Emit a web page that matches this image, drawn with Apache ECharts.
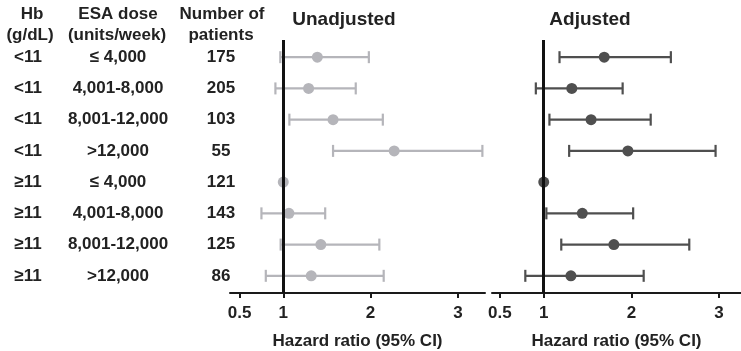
<!DOCTYPE html>
<html>
<head>
<meta charset="utf-8">
<script src="https://cdn.jsdelivr.net/npm/echarts@6/dist/echarts.min.js"></script>
<style>
html,body{margin:0;padding:0;background:#fff;}
#chart{width:741px;height:351px;}
</style>
</head>
<body>
<div id="chart"></div>
<script>
const hbLabels = ['<11', '<11', '<11', '<11', '≥11', '≥11', '≥11', '≥11'];
const doseLabels = ['≤ 4,000', '4,001-8,000', '8,001-12,000', '>12,000', '≤ 4,000', '4,001-8,000', '8,001-12,000', '>12,000'];
const patients = [175, 205, 103, 55, 121, 143, 125, 86];

const unadjHR = [1.39, 1.29, 1.57, 2.27, 1.00, 1.065, 1.43, 1.32];
const unadjLo = [0.966, 0.91, 1.07, 1.57, null, 0.75, 0.97, 0.80];
const unadjHi = [1.98, 1.83, 2.14, 3.28, null, 1.48, 2.10, 2.15];

const adjHR = [1.69, 1.32, 1.54, 1.96, 1.00, 1.44, 1.80, 1.31];
const adjLo = [1.18, 0.91, 1.065, 1.29, null, 1.03, 1.20, 0.79];
const adjHi = [2.45, 1.90, 2.22, 2.96, null, 2.02, 2.66, 2.14];

const tickValues = [0.5, 1, 2, 3];
const rowValues = [1, 2, 3, 4, 5, 6, 7, 8];

const FONT = "'Liberation Sans', Arial, sans-serif";
const TXT = '#222';
const LIGHT = '#b5b5ba';
const DARK = '#4f4f4f';

function errData(lo, hi) {
  const out = [];
  lo.forEach((v, i) => { if (v != null && hi[i] != null) out.push([i + 1, v, hi[i]]); });
  return out;
}
function makeRender(color) {
  return function (params, api) {
    const y = api.value(0), lo = api.value(1), hi = api.value(2);
    const a = api.coord([lo, y]), b = api.coord([hi, y]);
    const h = 6;
    const style = { stroke: color, lineWidth: 2.2 };
    return { type: 'group', children: [
      { type: 'line', shape: { x1: a[0], y1: a[1], x2: b[0], y2: b[1] }, style: style },
      { type: 'line', shape: { x1: a[0], y1: a[1] - h, x2: a[0], y2: a[1] + h }, style: style },
      { type: 'line', shape: { x1: b[0], y1: b[1] - h, x2: b[0], y2: b[1] + h }, style: style }
    ] };
  };
}
function xAxisCfg(gi, min, max) {
  return {
    gridIndex: gi, type: 'value', min: min, max: max,
    axisLine: { show: true, onZero: false, lineStyle: { color: '#1a1a1a', width: 2 } },
    axisTick: { show: true, customValues: tickValues, length: 5, lineStyle: { color: '#1a1a1a', width: 2 } },
    axisLabel: { customValues: tickValues, fontSize: 17, fontWeight: 'bold', color: TXT, fontFamily: FONT, margin: 12,
      formatter: v => String(v) },
    splitLine: { show: false },
    name: 'Hazard ratio (95% CI)', nameLocation: 'middle', nameGap: 40,
    nameTextStyle: { fontSize: 17, fontWeight: 'bold', color: TXT, fontFamily: FONT }
  };
}
function yAxisCfg(gi, labels, offset) {
  const cfg = {
    gridIndex: gi, type: 'value', inverse: true, min: 0.45, max: 8.55,
    axisLine: { show: false }, axisTick: { show: false }, splitLine: { show: false },
    position: 'left', offset: offset || 0,
    axisLabel: { show: false }
  };
  if (labels) {
    cfg.axisLabel = { show: true, customValues: rowValues, margin: 0, align: 'center',
      fontSize: 17, fontWeight: 'bold', color: TXT, fontFamily: FONT,
      formatter: v => String(labels[Math.round(v) - 1]) };
  }
  return cfg;
}
const refLine = {
  silent: true, symbol: 'none', label: { show: false },
  lineStyle: { color: '#111', width: 3, type: 'solid' },
  data: [{ xAxis: 1 }]
};

const chart = echarts.init(document.getElementById('chart'), null, { renderer: 'canvas' });
const headerStyle = (text, x, y, size) => ({
  type: 'text', x: x, y: y,
  style: { text: text, fill: TXT, font: 'bold ' + (size || 17) + 'px ' + FONT, textAlign: 'center', textVerticalAlign: 'middle' }
});
chart.setOption({
  animation: false,
  backgroundColor: '#fff',
  textStyle: { fontFamily: FONT },
  grid: [
    { left: 230, top: 40, width: 255, height: 253, containLabel: false, outerBoundsMode: 'none' },
    { left: 492, top: 40, width: 249, height: 253, containLabel: false, outerBoundsMode: 'none' }
  ],
  xAxis: [xAxisCfg(0, 0.39, 3.31), xAxisCfg(1, 0.41, 3.25)],
  yAxis: [
    yAxisCfg(0, null, 0),
    yAxisCfg(1, null, 0),
    yAxisCfg(0, patients, 9),
    yAxisCfg(0, doseLabels, 112),
    yAxisCfg(0, hbLabels, 202)
  ],
  graphic: [
    headerStyle('Hb', 32, 14), headerStyle('(g/dL)', 30, 35),
    headerStyle('ESA dose', 118, 14), headerStyle('(units/week)', 117, 35),
    headerStyle('Number of', 222, 14), headerStyle('patients', 221, 35),
    headerStyle('Unadjusted', 344, 20, 19),
    headerStyle('Adjusted', 590, 20, 19)
  ],
  series: [
    { type: 'custom', xAxisIndex: 0, yAxisIndex: 0, renderItem: makeRender(LIGHT),
      encode: { x: [1, 2], y: 0 }, data: errData(unadjLo, unadjHi), z: 2, silent: true },
    { type: 'scatter', xAxisIndex: 0, yAxisIndex: 0, symbol: 'circle', symbolSize: 11,
      itemStyle: { color: LIGHT, opacity: 1 }, data: unadjHR.map((v, i) => [v, i + 1]), z: 4,
      markLine: refLine },
    { type: 'custom', xAxisIndex: 1, yAxisIndex: 1, renderItem: makeRender(DARK),
      encode: { x: [1, 2], y: 0 }, data: errData(adjLo, adjHi), z: 2, silent: true },
    { type: 'scatter', xAxisIndex: 1, yAxisIndex: 1, symbol: 'circle', symbolSize: 11,
      itemStyle: { color: DARK, opacity: 1 }, data: adjHR.map((v, i) => [v, i + 1]), z: 4,
      markLine: refLine }
  ]
});
</script>
</body>
</html>
